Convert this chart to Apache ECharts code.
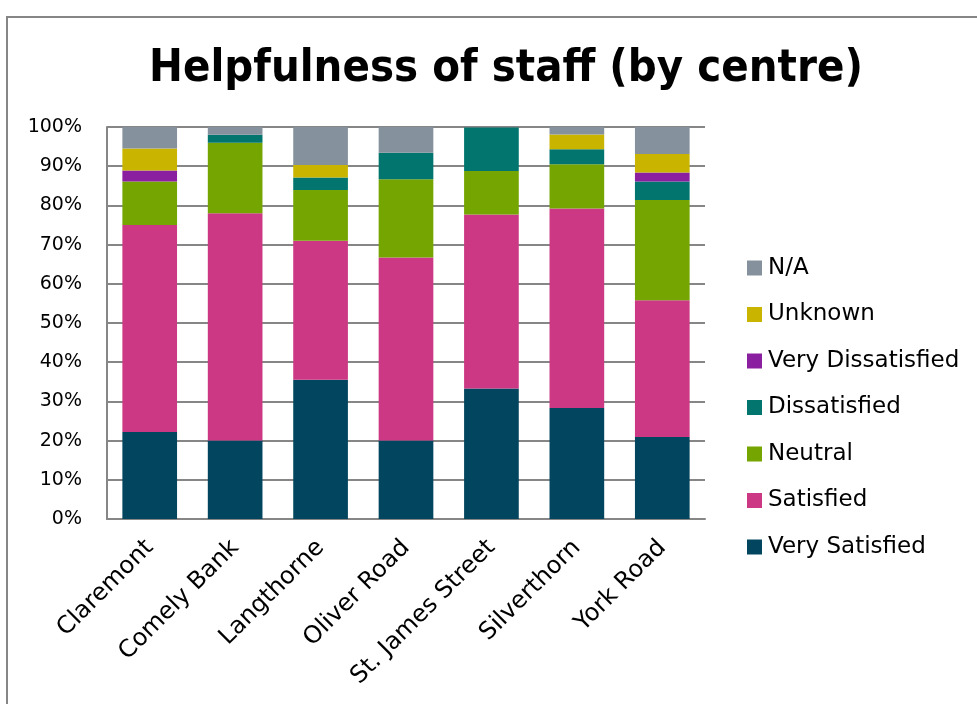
<!DOCTYPE html>
<html>
<head>
<meta charset="utf-8">
<style>
  html, body { margin: 0; padding: 0; background: #ffffff; }
  #chart { width: 977px; height: 704px; }
</style>
<script src="https://cdn.jsdelivr.net/npm/echarts@6/dist/echarts.min.js"></script>
</head>
<body>
<div id="chart"></div>
<script>
// Centres along the x axis
const centres = ['Claremont', 'Comely Bank', 'Langthorne', 'Oliver Road', 'St. James Street', 'Silverthorn', 'York Road'];

// Share of responses per centre (%), bottom of the stack first
const verySatisfied    = [22.2, 20.0, 35.5, 20.0, 33.3, 28.3, 20.9];
const satisfied        = [52.8, 58.0, 35.5, 46.7, 44.4, 50.9, 34.9];
const neutral          = [11.1, 18.0, 12.9, 20.0, 11.1, 11.3, 25.6];
const dissatisfied     = [0.0, 2.0, 3.2, 6.7, 11.1, 3.8, 4.7];
const veryDissatisfied = [2.8, 0.0, 0.0, 0.0, 0.0, 0.0, 2.3];
const unknown          = [5.6, 0.0, 3.2, 0.0, 0.0, 3.8, 4.7];
const notApplicable    = [5.6, 2.0, 9.7, 6.7, 0.0, 1.9, 7.0];

// Y axis tick labels
const yTicks = ['0%', '10%', '20%', '30%', '40%', '50%', '60%', '70%', '80%', '90%', '100%'];

const seriesDefs = [
  { name: 'Very Satisfied', data: verySatisfied, color: '#02455e' },
  { name: 'Satisfied', data: satisfied, color: '#cc3883' },
  { name: 'Neutral', data: neutral, color: '#75a501' },
  { name: 'Dissatisfied', data: dissatisfied, color: '#01756e' },
  { name: 'Very Dissatisfied', data: veryDissatisfied, color: '#8a1fa0' },
  { name: 'Unknown', data: unknown, color: '#c9b500' },
  { name: 'N/A', data: notApplicable, color: '#85929e' }
];

const font = 'DejaVu Sans';
const chart = echarts.init(document.getElementById('chart'), null, { renderer: 'canvas' });

chart.setOption({
  animation: false,
  backgroundColor: '#ffffff',
  graphic: [{
    type: 'rect',
    shape: { x: 7, y: 17, width: 1200, height: 900 },
    style: { fill: 'none', stroke: '#868686', lineWidth: 2 },
    silent: true,
    z: -10
  }],
  title: {
    text: 'Helpfulness of staff (by centre)',
    left: 501,
    top: 42,
    textAlign: 'center',
    textStyle: { fontFamily: 'DejaVu Sans Condensed', fontWeight: 'bold', fontSize: 45, color: '#000000' }
  },
  legend: {
    orient: 'vertical',
    left: 747,
    top: 256,
    padding: 0,
    itemWidth: 15,
    itemHeight: 15,
    itemGap: 22.5,
    icon: 'rect',
    data: ['N/A', 'Unknown', 'Very Dissatisfied', 'Dissatisfied', 'Neutral', 'Satisfied', 'Very Satisfied'],
    textStyle: { fontFamily: font, fontSize: 23, color: '#000000', lineHeight: 24, padding: [0, 0, 0, 1] },
    itemStyle: { borderWidth: 0 }
  },
  grid: { left: 107, right: 272, top: 127, bottom: 185, containLabel: false },
  xAxis: {
    type: 'category',
    data: centres,
    axisLine: { lineStyle: { color: '#868686', width: 2 } },
    axisTick: { show: false },
    axisLabel: {
      interval: 0,
      rotate: 45,
      margin: 25,
      fontFamily: font,
      fontSize: 24,
      color: '#000000'
    }
  },
  yAxis: {
    type: 'value',
    min: 0,
    max: 100,
    interval: 10,
    axisLine: { show: true, lineStyle: { color: '#868686', width: 2 } },
    axisTick: { show: false },
    splitLine: { lineStyle: { color: '#868686', width: 2 } },
    axisLabel: {
      margin: 25,
      fontFamily: font,
      fontSize: 19,
      color: '#000000',
      formatter: function (v) { return yTicks[Math.round(v / 10)]; }
    }
  },
  series: seriesDefs.map(function (s) {
    return {
      name: s.name,
      type: 'bar',
      stack: 'total',
      data: s.data,
      barWidth: '64%',
      itemStyle: { color: s.color },
      emphasis: { disabled: true }
    };
  })
});
</script>
</body>
</html>
